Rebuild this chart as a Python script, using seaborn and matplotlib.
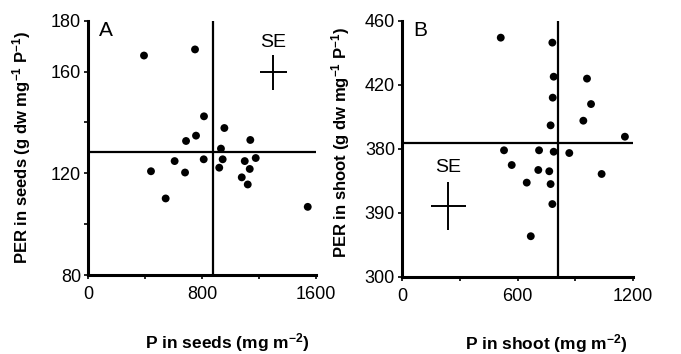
"""
PER vs P content, seeds (A) and shoot (B)
"""
import numpy as np
import pandas as pd
import seaborn as sns
import matplotlib
matplotlib.use('Agg')
from matplotlib import pyplot as plt

#######################################################################################
# Values
seeds_p = [814, 957, 758, 688, 1139, 933, 608, 812, 945, 1100, 1177,
           442, 681, 921, 1135, 1079, 1121, 545, 1542, 393, 751]
seeds_per = [142.4, 137.8, 134.8, 132.7, 133.1, 129.7, 124.8, 125.5, 125.5, 124.8, 126.0,
             120.8, 120.3, 122.2, 121.7, 118.4, 115.6, 110.1, 106.8, 166.3, 168.7]

shoot_p = [513, 781, 788, 961, 982, 783, 942, 772, 1158, 530, 712,
           788, 869, 570, 708, 765, 1037, 648, 772, 781, 669]
shoot_per = [449.4, 446.3, 425.0, 423.8, 407.9, 411.9, 397.5, 394.6, 387.5, 379.0, 379.0,
             378.1, 377.3, 369.8, 366.7, 365.9, 364.2, 358.8, 357.9, 345.4, 325.3]

# means (crosshair) and SE bars
seeds_mean = (877, 128.4)
shoot_mean = (810, 383.8)
seeds_se = (1300, 159.7, 95, 6.8)    # x, y, xerr, yerr
shoot_se = (240, 344.2, 91, 15.0)

seeds_yticks = [80, 100, 120, 140, 160, 180]
seeds_yticklabels = ['80', '', '120', '', '160', '180']
seeds_xticks = [0, 400, 800, 1200, 1600]
seeds_xticklabels = ['0', '', '800', '', '1600']
shoot_yticks = [300, 340, 380, 420, 460]
shoot_yticklabels = ['300', '390', '380', '420', '460']   # as printed
shoot_xticks = [0, 300, 600, 900, 1200]
shoot_xticklabels = ['0', '', '600', '', '1200']

df_seeds = pd.DataFrame({'P': seeds_p, 'PER': seeds_per})
df_shoot = pd.DataFrame({'P': shoot_p, 'PER': shoot_per})

#######################################################################################
sns.set_style('ticks')
plt.rcParams['font.family'] = ['Liberation Sans', 'DejaVu Sans']
plt.rcParams['mathtext.fontset'] = 'custom'
plt.rcParams['mathtext.rm'] = 'Liberation Sans'
plt.rcParams['mathtext.bf'] = 'Liberation Sans:bold'
plt.rcParams['mathtext.default'] = 'regular'
plt.rcParams['text.color'] = 'black'
plt.rcParams['axes.labelcolor'] = 'black'
plt.rcParams['xtick.color'] = 'black'
plt.rcParams['ytick.color'] = 'black'

fig = plt.figure(figsize=(6.81, 3.54), dpi=100)
W, H = 681., 354.
ax_a = fig.add_axes([88 / W, (H - 275) / H, 228 / W, 254.3 / H])
ax_b = fig.add_axes([402 / W, (H - 276.7) / H, 231 / W, 256 / H])

panels = [
    (ax_a, df_seeds, seeds_mean, seeds_se, (0, 1600), (80, 180),
     seeds_xticks, seeds_xticklabels, seeds_yticks, seeds_yticklabels,
     'P in seeds (mg m$^{-2}$)', 'PER in seeds (g dw mg$^{-1}$ P$^{-1}$)', 'A'),
    (ax_b, df_shoot, shoot_mean, shoot_se, (0, 1200), (300, 460),
     shoot_xticks, shoot_xticklabels, shoot_yticks, shoot_yticklabels,
     'P in shoot (mg m$^{-2}$)', 'PER in shoot (g dw mg$^{-1}$ P$^{-1}$)', 'B'),
]

for (ax, df, mean, se, xlim, ylim, xt, xtl, yt, ytl, xlab, ylab, letter) in panels:
    sns.scatterplot(data=df, x='P', y='PER', ax=ax, color='black', s=32,
                    edgecolor='none', clip_on=False, zorder=3)
    ax.hlines(mean[1], xlim[0], xlim[1], color='black', lw=1.6, clip_on=False)
    ax.vlines(mean[0], ylim[0], ylim[1], color='black', lw=1.6, clip_on=False)
    ax.errorbar(se[0], se[1], xerr=se[2], yerr=se[3], fmt='none', ecolor='black',
                elinewidth=1.4, capsize=0)
    ax.text(se[0], se[1] + se[3] * 1.25, 'SE', ha='center', va='bottom',
            fontsize=14)

    ax.set_xlim(*xlim)
    ax.set_ylim(*ylim)
    ax.set_xticks(xt)
    ax.set_xticklabels(xtl, fontsize=13)
    ax.set_yticks(yt)
    ax.set_yticklabels(ytl, fontsize=13)
    ax.tick_params(axis='both', length=3, width=1.2, pad=2)
    ax.tick_params(axis='x', pad=5)
    sns.despine(ax=ax)
    for s in ['left', 'bottom']:
        ax.spines[s].set_linewidth(2.2)
        ax.spines[s].set_color('black')

    ax.set_xlabel(xlab, fontsize=12.5, fontweight='bold')
    ax.set_ylabel(ylab, fontsize=12, fontweight='bold')
    ax.text(0.08, 1.0, letter, transform=ax.transAxes, ha='center', va='top',
            fontsize=15)

ax_a.xaxis.set_label_coords(0.61, -0.22)
ax_a.yaxis.set_label_coords(-0.24, 0.503)
ax_b.xaxis.set_label_coords(0.623, -0.215)
ax_b.yaxis.set_label_coords(-0.215, 0.524)

fig.savefig('out.png', dpi=100, facecolor='white')
